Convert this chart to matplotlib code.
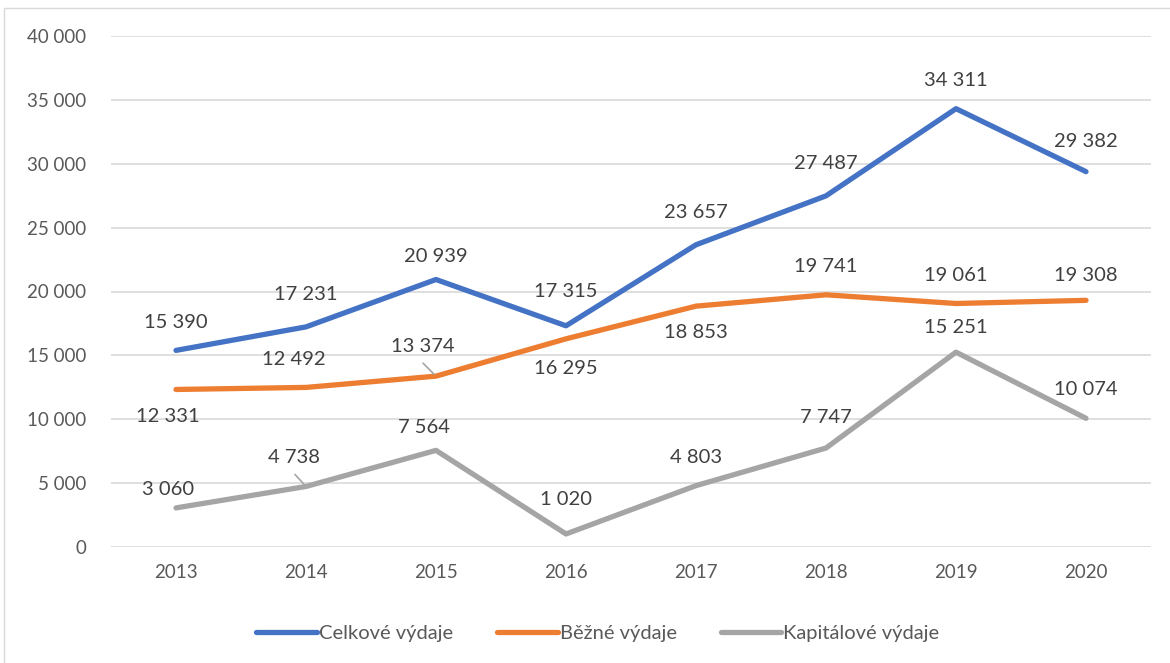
import matplotlib.pyplot as plt
from matplotlib.patches import Rectangle

# data
years = ['2013', '2014', '2015', '2016', '2017', '2018', '2019', '2020']
celkove = [15390, 17231, 20939, 17315, 23657, 27487, 34311, 29382]
bezne = [12331, 12492, 13374, 16295, 18853, 19741, 19061, 19308]
kapital = [3060, 4738, 7564, 1020, 4803, 7747, 15251, 10074]

# label offsets in pixels (dx, dy), per series
off_c = [(0, 28), (0, 32), (0, 23), (0, 34), (0, 32), (0, 32), (0, 28), (0, 30)]
off_b = [(-8, -27), (-12, 28), (-13, 30), (0, -30), (0, -26), (0, 28), (0, 28), (0, 25)]
off_k = [(-8, 18), (-12, 29), (-12, 23), (0, 34), (0, 28), (0, 31), (0, 25), (0, 29)]
# leader line start (offset pixels from the point), None = no leader
lead_b = [None, None, (-13, 13), None, None, None, None, None]
lead_k = [None, (-11, 12), None, None, None, None, None, None]

def fmt(v):
    return '{:,}'.format(v).replace(',', ' ')

plt.rcParams['font.family'] = ['Lato', 'DejaVu Sans']

fig = plt.figure(figsize=(11.7, 6.63), dpi=100)
ax = fig.add_axes([111/1170, 1-547/663, 1040/1170, 511/663])

x = list(range(len(years)))
series = [
    (celkove, 'Celkové výdaje', '#4472C4', off_c, [None]*8),
    (bezne, 'Běžné výdaje', '#ED7D31', off_b, lead_b),
    (kapital, 'Kapitálové výdaje', '#A5A5A5', off_k, lead_k),
]
for vals, name, col, offs, lead in series:
    ax.plot(x, vals, color=col, lw=3.8, label=name, solid_capstyle='round', solid_joinstyle='round')
    for i, v in enumerate(vals):
        dx, dy = offs[i]
        ax.annotate(fmt(v), (i, v), xytext=(dx, dy), textcoords='offset pixels',
                    ha='center', va='center', fontsize=14.5, color='#404040')
        if lead[i] is not None:
            ax.annotate('', (i, v), xytext=lead[i], textcoords='offset pixels',
                        arrowprops=dict(arrowstyle='-', color='#A5A5A5', lw=1.2,
                                        shrinkA=0, shrinkB=2))

ax.set_xlim(-0.5, 7.5)
ax.set_ylim(0, 40000)
ax.set_yticks(range(0, 40001, 5000))
ax.set_yticklabels([fmt(t) for t in range(0, 40001, 5000)])
ax.set_xticks(x)
ax.set_xticklabels(years)
ax.tick_params(length=0, labelsize=13.5, labelcolor='#595959')
ax.tick_params(axis='y', pad=18)
ax.tick_params(axis='x', pad=12)
ax.grid(axis='y', color='#D9D9D9', lw=1.2)
ax.set_axisbelow(True)
for s in ax.spines.values():
    s.set_visible(False)

leg = fig.legend(loc='center', bbox_to_anchor=(598/1170, 1-633/663), ncol=3, frameon=False,
                 fontsize=14.5, handlelength=3.0, handletextpad=0.1, columnspacing=2.2)
for t in leg.get_texts():
    t.set_color('#595959')

# outer chart frame
fig.patches.append(Rectangle((4/1170, -0.01), 1.1, 1-8/663 + 0.01, transform=fig.transFigure,
                             fill=False, edgecolor='#D9D9D9', lw=1))

fig.savefig('out.png', dpi=100)
